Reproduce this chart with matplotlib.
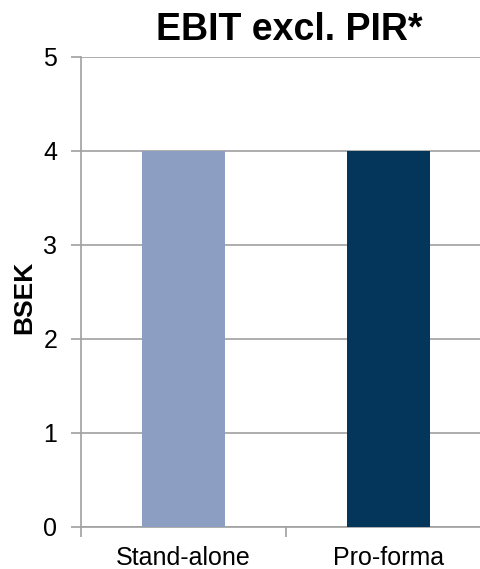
import matplotlib
matplotlib.use("Agg")
import matplotlib.pyplot as plt

plt.rcParams['font.family'] = ['Liberation Sans', 'DejaVu Sans']

categories = ["Stand-alone", "Pro-forma"]
values = [4.0, 4.0]
colors = ["#8C9FC3", "#03365A"]
yticks = [0, 1, 2, 3, 4, 5]

W, H = 481, 569
fig = plt.figure(figsize=(W / 100, H / 100), dpi=100)
ax = fig.add_axes([81 / W, (H - 527) / H, 410 / W, 470 / H])

x = range(len(categories))
ax.bar(x, values, width=0.405, color=colors, zorder=3)

ax.set_xlim(-0.5, len(categories) - 0.5)
ax.set_ylim(0, 5)
ax.set_yticks(yticks)
ax.set_xticks([-0.5, 0.5, 1.5], minor=False)
ax.set_xticklabels([])
ax.set_xticks(list(x), minor=True)
ax.set_xticklabels(categories, minor=True, fontsize=18)
ax.tick_params(axis='x', which='minor', length=0, pad=14)
ax.tick_params(axis='x', which='major', length=7, color="#A0A0A0", width=1.2)
ax.tick_params(axis='y', length=7, color="#A0A0A0", width=1.2, labelsize=18, pad=10)

ax.yaxis.grid(True, color="#A0A0A0", linewidth=1.2, zorder=0)
for s in ["top", "right"]:
    ax.spines[s].set_visible(False)
ax.spines["left"].set_color("#A0A0A0")
ax.spines["left"].set_linewidth(1.2)
ax.spines["bottom"].set_color("#A0A0A0")
ax.spines["bottom"].set_linewidth(1.2)

fig.text(24 / W, 1 - 297 / H, "BSEK", rotation=90, ha="center", va="center",
         fontsize=19, fontweight="bold")
fig.text(289 / W, 1 - 40 / H, "EBIT excl. PIR*", ha="center", va="baseline",
         fontsize=27, fontweight="bold")

fig.savefig("out.png", dpi=100)
